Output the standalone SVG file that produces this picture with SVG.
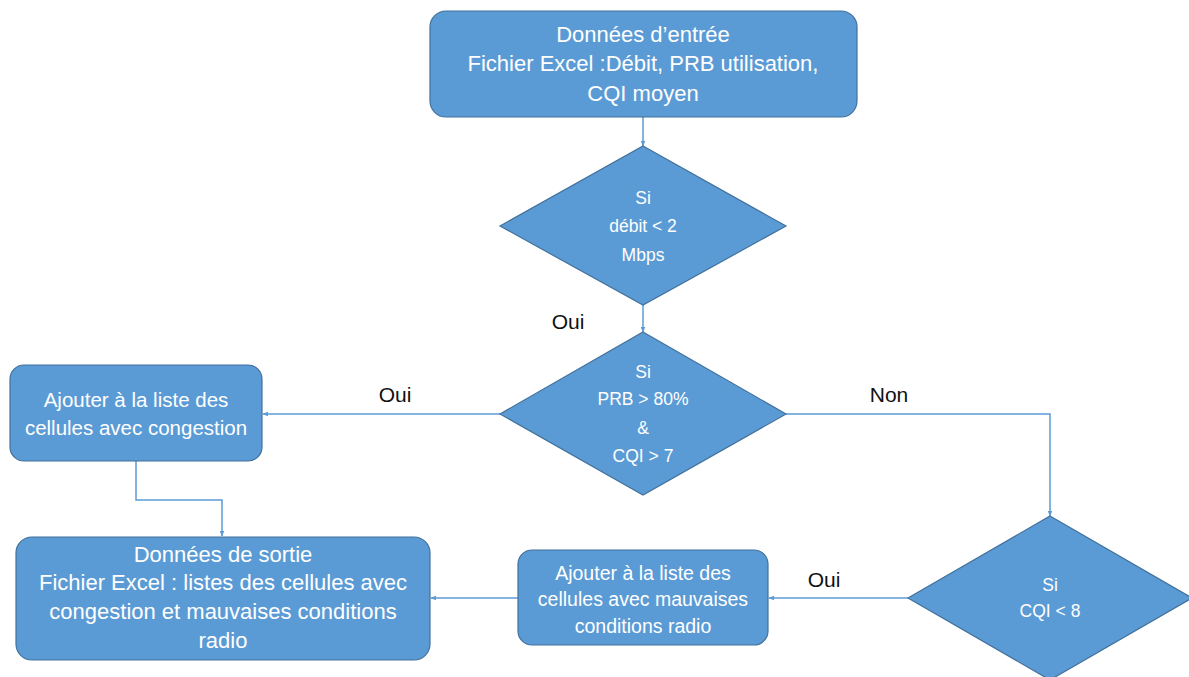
<svg xmlns="http://www.w3.org/2000/svg" width="1189" height="677" viewBox="0 0 1189 677">
  <style>
    .box { fill: #5b9bd5; stroke: #41719c; stroke-width: 1.2; }
    .t { fill: #ffffff; font-family: "Liberation Sans", Arial, sans-serif; text-anchor: middle; }
    .lbl { fill: #111111; font-family: "Liberation Sans", Arial, sans-serif; font-size: 21px; text-anchor: middle; }
    .edge { fill: none; stroke: #5b9bd5; stroke-width: 1.5; marker-end: url(#arrow); }
  </style>
  <defs>
    <marker id="arrow" viewBox="0 0 10 10" refX="9" refY="5" markerWidth="6" markerHeight="6" markerUnits="userSpaceOnUse" orient="auto">
      <path d="M0,1 L10,5 L0,9 Z" fill="#5b9bd5"/>
    </marker>
  </defs>
  <rect width="1189" height="677" fill="#ffffff"/>

  <!-- connectors -->
  <g id="connectors">
    <path class="edge" d="M643,117 L643,146"/>
    <path class="edge" d="M643,305 L643,332"/>
    <path class="edge" d="M500,414 L263,414"/>
    <path class="edge" d="M786,414 L1050,414 L1050,516"/>
    <path class="edge" d="M136,461 L136,500 L222,500 L222,536"/>
    <path class="edge" d="M908,598 L769,598"/>
    <path class="edge" d="M518,598 L431,598"/>
    <text class="lbl" x="568" y="329">Oui</text>
    <text class="lbl" x="395" y="402">Oui</text>
    <text class="lbl" x="889" y="402">Non</text>
    <text class="lbl" x="824" y="587">Oui</text>
  </g>

  <!-- input data -->
  <g id="input">
    <rect class="box" x="430" y="11" width="427" height="106" rx="16"/>
    <text class="t" font-size="22" x="643" y="42">Données d’entrée</text>
    <text class="t" font-size="22" x="643" y="71">Fichier Excel :Débit, PRB utilisation,</text>
    <text class="t" font-size="22" x="643" y="101">CQI moyen</text>
  </g>

  <!-- throughput test -->
  <g id="test-debit">
    <polygon class="box" points="643,146 786,226 643,305 500,226"/>
    <text class="t" font-size="17.5" x="643" y="204">Si</text>
    <text class="t" font-size="17.5" x="643" y="232">débit &lt; 2</text>
    <text class="t" font-size="17.5" x="643" y="261">Mbps</text>
  </g>

  <!-- PRB / CQI test -->
  <g id="test-prb">
    <polygon class="box" points="643,332 786,414 643,495 500,414"/>
    <text class="t" font-size="17.5" x="643" y="378">Si</text>
    <text class="t" font-size="17.5" x="643" y="405">PRB &gt; 80%</text>
    <text class="t" font-size="17.5" x="643" y="434">&amp;</text>
    <text class="t" font-size="17.5" x="643" y="462">CQI &gt; 7</text>
  </g>

  <!-- congestion list -->
  <g id="add-congestion">
    <rect class="box" x="10" y="365" width="252" height="96" rx="14"/>
    <text class="t" font-size="20.5" x="136" y="407">Ajouter à la liste des</text>
    <text class="t" font-size="20.5" x="136" y="435">cellules avec congestion</text>
  </g>

  <!-- CQI test -->
  <g id="test-cqi">
    <polygon class="box" points="1050,516 1192,598 1050,680 908,598"/>
    <text class="t" font-size="17.5" x="1050" y="591">Si</text>
    <text class="t" font-size="17.5" x="1050" y="617">CQI &lt; 8</text>
  </g>

  <!-- bad radio list -->
  <g id="add-radio">
    <rect class="box" x="518" y="550" width="250" height="95" rx="14"/>
    <text class="t" font-size="19.5" x="643" y="580">Ajouter à la liste des</text>
    <text class="t" font-size="19.5" x="643" y="606">cellules avec mauvaises</text>
    <text class="t" font-size="19.5" x="643" y="633">conditions radio</text>
  </g>

  <!-- output data -->
  <g id="output">
    <rect class="box" x="16" y="537" width="414" height="123" rx="16"/>
    <text class="t" font-size="22" x="223" y="562">Données de sortie</text>
    <text class="t" font-size="22" x="223" y="590">Fichier Excel : listes des cellules avec</text>
    <text class="t" font-size="22" x="223" y="619">congestion et mauvaises conditions</text>
    <text class="t" font-size="22" x="223" y="648">radio</text>
  </g>
</svg>
